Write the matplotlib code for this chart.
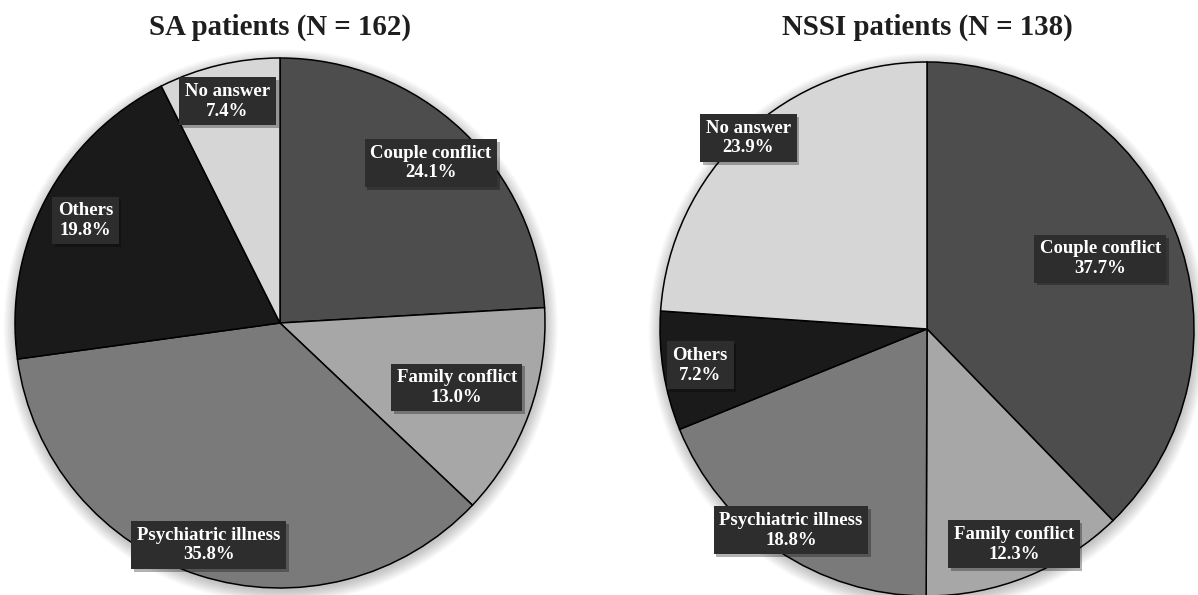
import numpy as np
import matplotlib
matplotlib.use('Agg')
from matplotlib import pyplot as plt
from matplotlib import patheffects as pe
from matplotlib.patches import Circle

categories = ['Couple conflict', 'Family conflict', 'Psychiatric illness', 'Others', 'No answer']
sa_pct = [24.1, 13.0, 35.8, 19.8, 7.4]
nssi_pct = [37.7, 12.3, 18.8, 7.2, 23.9]
titles = ['SA patients (N = 162)', 'NSSI patients (N = 138)']

colors = ['#4d4d4d', '#a7a7a7', '#7a7a7a', '#1a1a1a', '#d6d6d6']
# how far out (fraction of radius) each label box sits
sa_lab_r = [0.83, 0.71, 0.88, 0.83, 0.86]
nssi_lab_r = [0.70, 0.87, 0.91, 0.86, 0.98]

W, H = 1198, 595
fig = plt.figure(figsize=(W / 100, H / 100), dpi=100)
plt.rcParams['font.family'] = ['Liberation Serif', 'DejaVu Serif']


def pie_axes(cx, cy, r):
    # cx, cy, r in pixels, cy measured from the top
    return fig.add_axes([(cx - r) / W, (H - cy - r) / H, 2 * r / W, 2 * r / H])


def draw_pie(ax, vals, lab_r):
    # soft shadow under the pie
    for i in range(10):
        ax.add_patch(Circle((0.003, -0.012), 1.0 + 0.005 * i, color='black',
                            alpha=0.025, lw=0, zorder=0, clip_on=False))
    wedges, _ = ax.pie(vals, colors=colors, startangle=90, counterclock=False,
                       radius=1.0, frame=False,
                       wedgeprops=dict(edgecolor='black', linewidth=1.1))
    ax.set_xlim(-1, 1)
    ax.set_ylim(-1, 1)
    ax.set_aspect('equal')
    ax.axis('off')
    for w in wedges:
        w.set_clip_on(False)
        w.set_zorder(1)
    for w, name, v, rr in zip(wedges, categories, vals, lab_r):
        mid = np.deg2rad((w.theta1 + w.theta2) / 2)
        t = ax.text(rr * np.cos(mid), rr * np.sin(mid), f'{name}\n{v:.1f}%',
                    ha='center', va='center', color='white', fontsize=13.5,
                    fontweight='bold', linespacing=1.2, zorder=5, clip_on=False,
                    bbox=dict(boxstyle='square,pad=0.3', fc='#2d2d2d', ec='none'))
        t.get_bbox_patch().set_path_effects([
            pe.SimplePatchShadow(offset=(2, -2), shadow_rgbFace='black', alpha=0.3),
            pe.Normal()])


ax1 = pie_axes(280, 323, 265)
draw_pie(ax1, sa_pct, sa_lab_r)
ax2 = pie_axes(927, 329, 267)
draw_pie(ax2, nssi_pct, nssi_lab_r)

fig.text(280 / W, 1 - 27 / H, titles[0], ha='center', va='center',
         fontsize=20.8, fontweight='bold', color='#1e1e1e')
fig.text(927 / W, 1 - 27 / H, titles[1], ha='center', va='center',
         fontsize=20.8, fontweight='bold', color='#1e1e1e')

fig.savefig('out.png', dpi=100, facecolor='white')
